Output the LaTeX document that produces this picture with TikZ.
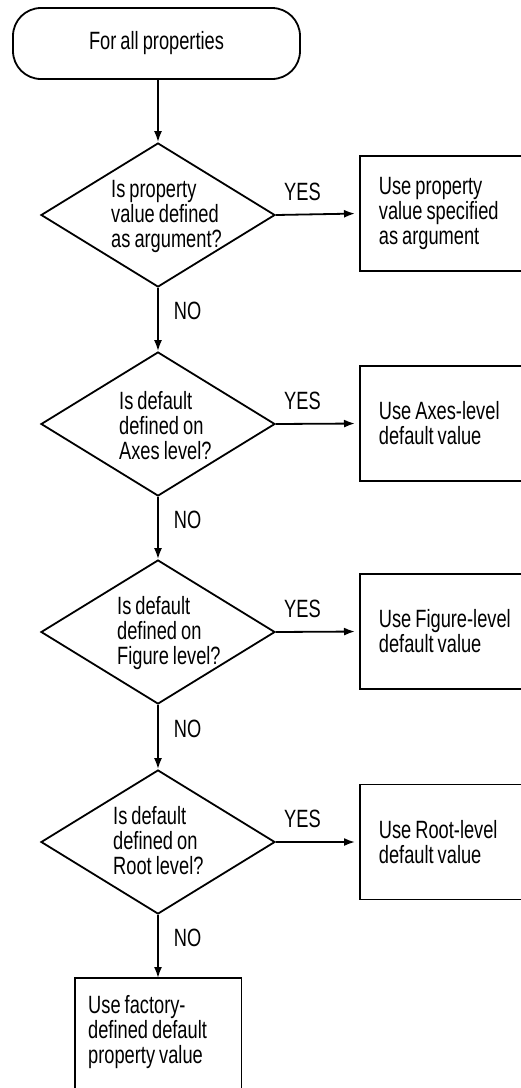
\documentclass[tikz,border=0pt]{standalone}
\usepackage{fontspec}
\setmainfont{Liberation Sans}[FakeStretch=0.73,WordSpace=0.8]
\usetikzlibrary{shapes.geometric,arrows.meta}
\begin{document}
\begin{tikzpicture}[x=1pt,y=-1pt,
  every node/.style={font=\fontsize{25}{25}\selectfont},
  boxline/.style={line width=1.8pt},
  arr/.style={line width=1.8pt,-{Latex[length=11pt,width=8pt]}},
  decision/.style={draw,line width=1.8pt,diamond,minimum width=234pt,minimum height=144pt,inner sep=0pt},
  term/.style={draw,line width=1.8pt,rounded corners=28pt,minimum width=287pt,minimum height=71pt},
  outbox/.style={draw,line width=1.8pt,anchor=west,minimum height=115pt,text width=170pt,inner xsep=19pt,align=flush left},
  qtext/.style={anchor=west,align=left,inner sep=0pt},
  lbl/.style={inner sep=0pt}]
\useasboundingbox (0,0) rectangle (521,1088);
\clip (0,0) rectangle (521,1088);

\node[term] (start) at (156.5,43.5) {For all properties};

\node[decision] (d1) at (158,215) {};
\node[qtext] (q1) at (111,216) {Is property\\value defined\\as argument?};
\node[outbox] (b1) at (359,213.5) {Use property\\value specified\\as argument};

\node[decision] (d2) at (158,424) {};
\node[qtext] (q2) at (119,426) {Is default\\defined on\\Axes level?};
\node[outbox] (b2) at (359,423.5) {Use Axes-level\\default value};

\node[decision] (d3) at (158,632) {};
\node[qtext] (q3) at (117,633) {Is default\\defined on\\Figure level?};
\node[outbox] (b3) at (359,631.5) {Use Figure-level\\default value};

\node[decision] (d4) at (158,842) {};
\node[qtext] (q4) at (113,841) {Is default\\defined on\\Root level?};
\node[outbox] (b4) at (359,842) {Use Root-level\\default value};

\node[anchor=north west,align=flush left,inner xsep=13pt,inner ysep=17pt,text width=140pt] (f) at (75,978) {Use factory-\\defined default\\property value};
\draw[boxline] (f.north west) rectangle ([yshift=-40pt]f.south east);

\draw[arr] (start.south -| d1.north) -- (d1.north);
\draw[arr,shorten >=4pt] (d1.east) -- node[lbl,above=13pt,pos=0.32]{YES} (b1.west);
\draw[arr,shorten >=4pt] (d2.east) -- node[lbl,above=13pt,pos=0.32]{YES} (b2.west);
\draw[arr,shorten >=4pt] (d3.east) -- node[lbl,above=13pt,pos=0.32]{YES} (b3.west);
\draw[arr,shorten >=4pt] (d4.east) -- node[lbl,above=13pt,pos=0.32]{YES} (b4.west);
\draw[arr] (d1.south) -- node[lbl,right=15pt,pos=0.37]{NO} (d2.north);
\draw[arr] (d2.south) -- node[lbl,right=15pt,pos=0.37]{NO} (d3.north);
\draw[arr] (d3.south) -- node[lbl,right=15pt,pos=0.37]{NO} (d4.north);
\draw[arr] (d4.south) -- node[lbl,right=15pt,pos=0.37]{NO} (f.north -| d4.south);
\end{tikzpicture}
\end{document}
